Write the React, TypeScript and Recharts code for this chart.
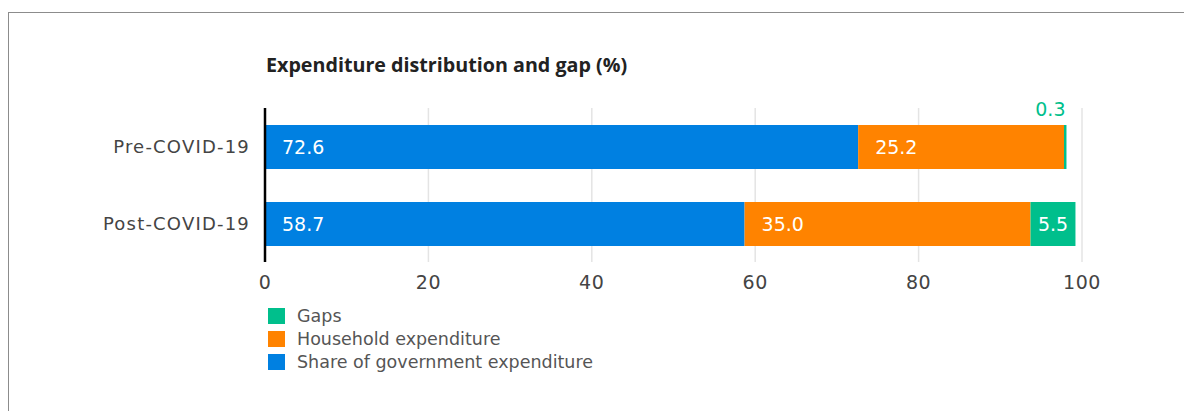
import { BarChart, Bar, XAxis, YAxis, CartesianGrid, LabelList } from "recharts";

// values (%)
const categories = ["Pre-COVID-19", "Post-COVID-19"];
const governmentShare = [72.6, 58.7];
const householdExpenditure = [25.2, 35.0];
const gaps = [0.3, 5.5];
const xTicks = [0, 20, 40, 60, 80, 100];

const BLUE = "#0080e1";
const ORANGE = "#ff8300";
const GREEN = "#00bf8c";
const FONT = "'DejaVu Sans', sans-serif";
const TITLE_FONT = "'Open Sans', sans-serif";

const data = categories.map((category, i) => ({
  category,
  government: governmentShare[i],
  household: householdExpenditure[i],
  gaps: gaps[i],
}));

// legend is listed top-down in reverse stack order
const legendItems = [
  { name: "Gaps", color: GREEN },
  { name: "Household expenditure", color: ORANGE },
  { name: "Share of government expenditure", color: BLUE },
];

const fmt = (v: number) => v.toFixed(1);

function InsideLeftLabel(props: any) {
  const { x, y, height, value } = props;
  return (
    <text
      x={x + 17}
      y={y + height / 2}
      dominantBaseline="central"
      fill="#fff"
      fontSize={19}
      fontFamily={FONT}
    >
      {fmt(value)}
    </text>
  );
}

function GapLabel(props: any) {
  const { x, y, width, height, value } = props;
  // tiny slices get their label above the bar end, in the series colour
  if (width < 20) {
    return (
      <text x={x + width - 1} y={y - 9} textAnchor="end" fill={GREEN} fontSize={19} fontFamily={FONT}>
        {fmt(value)}
      </text>
    );
  }
  return (
    <text
      x={x + width / 2}
      y={y + height / 2}
      textAnchor="middle"
      dominantBaseline="central"
      fill="#fff"
      fontSize={19}
      fontFamily={FONT}
    >
      {fmt(value)}
    </text>
  );
}

export default function App() {
  return (
    <div style={{ paddingTop: 4 }}>
      <div
        style={{
          position: "relative",
          width: 1183,
          height: 398,
          borderTop: "1px solid #8c8c8c",
          borderLeft: "1px solid #8c8c8c",
          fontFamily: FONT,
        }}
      >
        <div
          style={{
            position: "absolute",
            left: 257,
            top: 38,
            fontSize: 19.7,
            fontWeight: 700,
            fontFamily: TITLE_FONT,
            color: "#222",
            whiteSpace: "nowrap",
          }}
        >
          Expenditure distribution and gap (%)
        </div>

        <div style={{ position: "absolute", left: 0, top: 0 }}>
          <BarChart
            width={1183}
            height={397}
            data={data}
            layout="vertical"
            margin={{ top: 95, right: 110, bottom: 118, left: 0 }}
          >
            <CartesianGrid horizontal={false} stroke="#e4e4e4" strokeWidth={1.5} />
            <XAxis
              type="number"
              domain={[0, 100]}
              ticks={xTicks}
              axisLine={false}
              tickLine={false}
              tickMargin={8}
              tick={{ fontSize: 19, fill: "#444", fontFamily: FONT, letterSpacing: 0.6 }}
            />
            <YAxis
              type="category"
              dataKey="category"
              width={256}
              axisLine={{ stroke: "#000", strokeWidth: 2.5 }}
              tickLine={false}
              tickMargin={9}
              tick={{ fontSize: 18, fill: "#444", fontFamily: FONT, letterSpacing: 1.2 }}
            />
            <Bar dataKey="government" stackId="a" fill={BLUE} barSize={44} isAnimationActive={false}>
              <LabelList dataKey="government" content={InsideLeftLabel} />
            </Bar>
            <Bar dataKey="household" stackId="a" fill={ORANGE} barSize={44} isAnimationActive={false}>
              <LabelList dataKey="household" content={InsideLeftLabel} />
            </Bar>
            <Bar dataKey="gaps" stackId="a" fill={GREEN} barSize={44} isAnimationActive={false}>
              <LabelList dataKey="gaps" content={GapLabel} />
            </Bar>
          </BarChart>
        </div>

        <div style={{ position: "absolute", left: 259, top: 291 }}>
          {legendItems.map((item) => (
            <div
              key={item.name}
              style={{ display: "flex", alignItems: "center", height: 23, fontSize: 17.5, color: "#555" }}
            >
              <span
                style={{
                  display: "inline-block",
                  width: 17,
                  height: 16,
                  background: item.color,
                  marginRight: 12,
                }}
              />
              {item.name}
            </div>
          ))}
        </div>
      </div>
    </div>
  );
}
